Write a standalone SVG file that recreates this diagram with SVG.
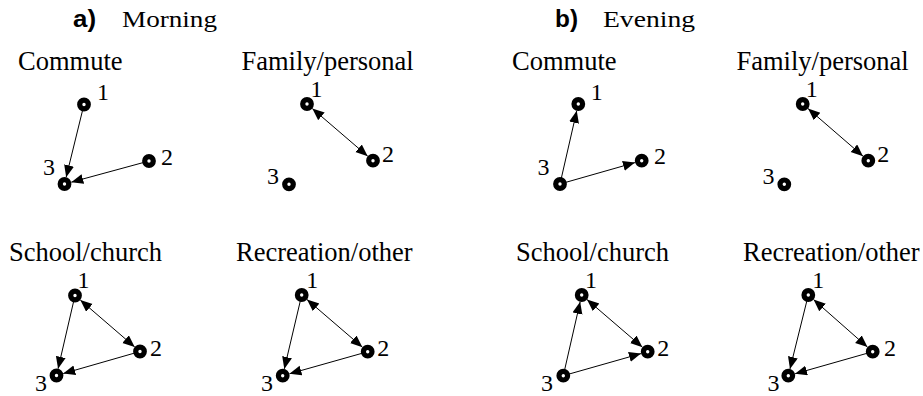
<svg xmlns="http://www.w3.org/2000/svg" width="923" height="396" viewBox="0 0 923 396">
<style>
.n{fill:#fff;stroke:#000;stroke-width:5.2}
.lb{font-family:'Liberation Serif','Times New Roman',serif;font-size:24px;fill:#000}
.cat{font-family:'Liberation Serif','Times New Roman',serif;font-size:26.5px;fill:#000}
.ttl{font-family:'Liberation Serif','Times New Roman',serif;font-size:23px;fill:#000}
.tl{font-family:'Liberation Sans',Arial,sans-serif;font-weight:bold;font-size:23px;fill:#000}
.e{stroke:#000;stroke-width:1;fill:none;marker-end:url(#ah)}
.b{marker-start:url(#ah)}
</style>
<defs>
<marker id="ah" markerUnits="userSpaceOnUse" markerWidth="14" markerHeight="12" refX="12" refY="5" orient="auto-start-reverse">
<path d="M0,0 L12,5 L0,10 z" fill="#000"/>
</marker>
</defs>
<rect width="923" height="396" fill="#fff"/>
<g id="titles">
<text class="tl" x="73" y="27" textLength="23" lengthAdjust="spacingAndGlyphs">a)</text>
<text class="ttl" x="122" y="27" textLength="95" lengthAdjust="spacingAndGlyphs">Morning</text>
<text class="tl" x="555" y="27" textLength="23" lengthAdjust="spacingAndGlyphs">b)</text>
<text class="ttl" x="603" y="27" textLength="92" lengthAdjust="spacingAndGlyphs">Evening</text>
</g>
<g id="categories">
<text class="cat" x="18" y="70">Commute</text>
<text class="cat" x="241.5" y="70">Family/personal</text>
<text class="cat" x="9" y="261">School/church</text>
<text class="cat" x="236" y="261">Recreation/other</text>
<text class="cat" x="512" y="70">Commute</text>
<text class="cat" x="736.5" y="70">Family/personal</text>
<text class="cat" x="516" y="261">School/church</text>
<text class="cat" x="743" y="261">Recreation/other</text>
</g>
<g id="connectors">
<line class="e" x1="82.57" y1="110.33" x2="66.17" y2="177.2"/>
<line class="e" x1="143.21" y1="162.58" x2="71.25" y2="182.16"/>
<line class="e b" x1="312.31" y1="108.56" x2="367.69" y2="156.14"/>
<line class="e b" x1="80.31" y1="300.07" x2="134.69" y2="346.93"/>
<line class="e" x1="73.65" y1="301.35" x2="58.08" y2="368.68"/>
<line class="e" x1="134.23" y1="353.16" x2="63.23" y2="373.56"/>
<line class="e b" x1="307.01" y1="299.56" x2="362.39" y2="347.14"/>
<line class="e" x1="300.33" y1="300.84" x2="284.31" y2="368.89"/>
<line class="e" x1="361.93" y1="353.33" x2="289.43" y2="373.8"/>
<line class="e" x1="561.34" y1="178.15" x2="576.74" y2="110.82"/>
<line class="e" x1="565.77" y1="182.35" x2="634.97" y2="162.62"/>
<line class="e b" x1="808" y1="108.57" x2="863" y2="156.13"/>
<line class="e b" x1="587.01" y1="299.56" x2="642.39" y2="347.14"/>
<line class="e" x1="564.63" y1="369.85" x2="580.15" y2="301.83"/>
<line class="e" x1="569.07" y1="374.06" x2="640.97" y2="353.61"/>
<line class="e b" x1="813.55" y1="299.62" x2="867.45" y2="347.08"/>
<line class="e" x1="806.86" y1="300.82" x2="789.98" y2="368.91"/>
<line class="e" x1="866.93" y1="353.34" x2="795.03" y2="373.79"/>
</g>
<g id="a-commute-1"><circle class="n" cx="84" cy="104.5" r="4.3"/><text class="lb" x="97" y="100">1</text></g>
<g id="a-commute-2"><circle class="n" cx="149" cy="161" r="4.3"/><text class="lb" x="161" y="165">2</text></g>
<g id="a-commute-3"><circle class="n" cx="64.5" cy="184" r="4.3"/><text class="lb" x="43" y="175">3</text></g>
<g id="a-family-1"><circle class="n" cx="307" cy="104" r="4.3"/><text class="lb" x="310.5" y="97">1</text></g>
<g id="a-family-2"><circle class="n" cx="373" cy="160.7" r="4.3"/><text class="lb" x="382" y="162">2</text></g>
<g id="a-family-3"><circle class="n" cx="289" cy="184.3" r="4.3"/><text class="lb" x="267" y="184">3</text></g>
<g id="a-school-1"><circle class="n" cx="75" cy="295.5" r="4.3"/><text class="lb" x="77.5" y="288">1</text></g>
<g id="a-school-2"><circle class="n" cx="140" cy="351.5" r="4.3"/><text class="lb" x="150" y="356">2</text></g>
<g id="a-school-3"><circle class="n" cx="56.5" cy="375.5" r="4.3"/><text class="lb" x="35" y="391">3</text></g>
<g id="a-rec-1"><circle class="n" cx="301.7" cy="295" r="4.3"/><text class="lb" x="306.3" y="288">1</text></g>
<g id="a-rec-2"><circle class="n" cx="367.7" cy="351.7" r="4.3"/><text class="lb" x="377.3" y="356">2</text></g>
<g id="a-rec-3"><circle class="n" cx="282.7" cy="375.7" r="4.3"/><text class="lb" x="261" y="391">3</text></g>
<g id="b-commute-1"><circle class="n" cx="578.3" cy="104" r="4.3"/><text class="lb" x="590.7" y="100">1</text></g>
<g id="b-commute-2"><circle class="n" cx="641.7" cy="160.7" r="4.3"/><text class="lb" x="654" y="164">2</text></g>
<g id="b-commute-3"><circle class="n" cx="560" cy="184" r="4.3"/><text class="lb" x="537.5" y="175">3</text></g>
<g id="b-family-1"><circle class="n" cx="802.7" cy="104" r="4.3"/><text class="lb" x="805.7" y="97">1</text></g>
<g id="b-family-2"><circle class="n" cx="868.3" cy="160.7" r="4.3"/><text class="lb" x="877.3" y="162">2</text></g>
<g id="b-family-3"><circle class="n" cx="784.3" cy="184.3" r="4.3"/><text class="lb" x="762.5" y="184">3</text></g>
<g id="b-school-1"><circle class="n" cx="581.7" cy="295" r="4.3"/><text class="lb" x="585" y="288">1</text></g>
<g id="b-school-2"><circle class="n" cx="647.7" cy="351.7" r="4.3"/><text class="lb" x="657.3" y="356">2</text></g>
<g id="b-school-3"><circle class="n" cx="563.3" cy="375.7" r="4.3"/><text class="lb" x="541" y="391">3</text></g>
<g id="b-rec-1"><circle class="n" cx="808.3" cy="295" r="4.3"/><text class="lb" x="812.3" y="288">1</text></g>
<g id="b-rec-2"><circle class="n" cx="872.7" cy="351.7" r="4.3"/><text class="lb" x="884" y="356">2</text></g>
<g id="b-rec-3"><circle class="n" cx="788.3" cy="375.7" r="4.3"/><text class="lb" x="767.5" y="391">3</text></g>
</svg>
